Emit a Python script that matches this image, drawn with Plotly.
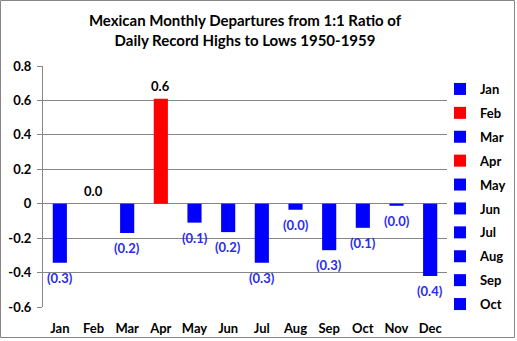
import plotly.graph_objects as go

months = ["Jan", "Feb", "Mar", "Apr", "May", "Jun", "Jul", "Aug", "Sep", "Oct", "Nov", "Dec"]
departures = [-0.343, 0.0, -0.17, 0.61, -0.11, -0.165, -0.343, -0.035, -0.27, -0.14, -0.012, -0.42]
bar_colors = ["#0000FF", "#FF0000", "#0000FF", "#FF0000", "#0000FF", "#0000FF",
              "#0000FF", "#0000FF", "#0000FF", "#0000FF", "#0000FF", "#0000FF"]
legend_shown = [True] * 10 + [False, False]
y_ticks = [0.8, 0.6, 0.4, 0.2, 0, -0.2, -0.4, -0.6]
y_tick_text = ["0.8", "0.6", "0.4", "0.2", "0", "-0.2", "-0.4", "-0.6"]

FONT = "Lato"
fig = go.Figure()
for m, v, c, s in zip(months, departures, bar_colors, legend_shown):
    fig.add_trace(go.Bar(x=[m], y=[v], name=m, marker=dict(color=c, line=dict(width=0)),
                         width=0.42, showlegend=s, legendgroup=m))

for m, v in zip(months, departures):
    if v >= 0:
        txt, col, ys = f"{abs(v):.1f}", "#000000", 13
    else:
        txt, col, ys = f"({abs(v):.1f})", "#2B2BF0", -15
    fig.add_annotation(x=m, y=v, text=txt, showarrow=False, yshift=ys,
                       font=dict(family=FONT, size=13, color=col, weight="bold"))

L, R, T, B = 43, 70, 66, 34
W, H = 517, 341
pw, ph = W - L - R, H - T - B
fig.add_shape(type="rect", xref="paper", yref="paper",
              x0=(0.5 - L) / pw, x1=(W - 2.5 - L) / pw,
              y0=-(H - 3.5 - T - ph) / ph, y1=1 + (T - 0.5) / ph,
              line=dict(color="#868686", width=1))

fig.update_layout(
    width=W, height=H,
    margin=dict(l=L, r=R, t=T, b=B, autoexpand=False),
    paper_bgcolor="white", plot_bgcolor="white",
    barmode="overlay",
    font=dict(family=FONT, size=13, color="#000000", weight="bold"),
    title=dict(text="<b>Mexican Monthly Departures from 1:1 Ratio of<br>Daily Record Highs to Lows 1950-1959</b>",
               x=0.5, xref="paper", xanchor="center", y=0.923, yanchor="top",
               font=dict(family=FONT, size=15, color="#000000", weight="bold")),
    xaxis=dict(type="category", categoryorder="array", categoryarray=months,
               showgrid=False, showline=False, ticks="", ticklabelstandoff=12,
               automargin=False,
               tickfont=dict(family=FONT, size=13, weight="bold")),
    yaxis=dict(range=[-0.6, 0.8], tickvals=y_ticks, ticktext=y_tick_text,
               showgrid=True, gridcolor="#868686", gridwidth=1,
               zeroline=True, zerolinecolor="#868686", zerolinewidth=1,
               showline=True, linecolor="#868686", linewidth=1,
               ticks="outside", ticklen=5, tickcolor="#868686",
               ticklabelstandoff=3, automargin=False,
               tickfont=dict(family=FONT, size=13, weight="bold")),
    legend=dict(xref="container", yref="container", x=440 / W, xanchor="left",
                y=1 - 74 / H, yanchor="top",
                font=dict(family=FONT, size=13, weight="bold"), tracegroupgap=4,
                itemwidth=30, bgcolor="rgba(0,0,0,0)", maxheight=1000),
    showlegend=True,
)
fig.write_html("out.html")
